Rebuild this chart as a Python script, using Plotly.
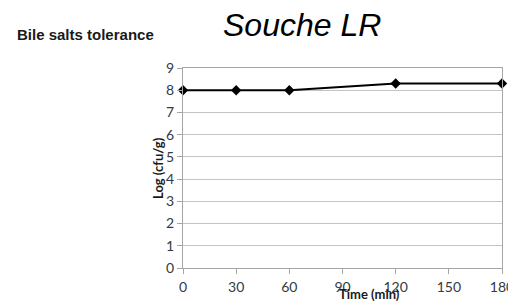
import plotly.graph_objects as go

time_min = [0, 30, 60, 120, 180]
log_cfu = [8.0, 8.0, 8.0, 8.3, 8.3]
x_ticks = [0, 30, 60, 90, 120, 150, 180]
y_ticks = list(range(0, 10))

tick_font = dict(family="Lato, Liberation Sans, sans-serif", size=14, color="#333a45")
grid = "#c4c4c4"

fig = go.Figure()
fig.add_trace(go.Scatter(
    x=time_min, y=log_cfu, mode="lines+markers",
    line=dict(color="black", width=2),
    marker=dict(symbol="diamond", size=8, color="black"),
    cliponaxis=False, showlegend=False,
))

fig.update_layout(
    width=508, height=301,
    margin=dict(l=183, r=6, t=68, b=33, autoexpand=False),
    paper_bgcolor="white", plot_bgcolor="white",
    xaxis=dict(range=[0, 180], tickvals=x_ticks, ticks="outside", ticklen=5,
               tickcolor="#a6a6a6", showline=True, linecolor="#a6a6a6", mirror=True,
               showgrid=False, zeroline=False, tickfont=tick_font, ticklabelstandoff=1,
               ticklabeloverflow="allow", automargin=False),
    yaxis=dict(range=[0, 9], tickvals=y_ticks, ticks="outside", ticklen=5,
               tickcolor="#a6a6a6", showline=True, linecolor="#a6a6a6", mirror=True,
               showgrid=True, gridcolor=grid, zeroline=False, tickfont=tick_font,
               automargin=False),
    annotations=[
        dict(text="<b>Bile salts tolerance</b>", x=15, y=301-34, xref="paper", yref="paper",
             showarrow=False, xanchor="left", yanchor="middle",
             font=dict(family="Liberation Sans, Arial", size=15, color="#1a1a1a")),
        dict(text="<i>Souche LR</i>", x=302, y=301-25, xref="paper", yref="paper",
             showarrow=False, xanchor="center", yanchor="middle",
             font=dict(family="Liberation Sans, Arial", size=32, color="black")),
        dict(text="<b>Time (min)</b>", x=369, y=301-294, xref="paper", yref="paper",
             showarrow=False, xanchor="center", yanchor="middle",
             font=dict(family="Lato, Liberation Sans", size=13, color="#1a1a1a")),
        dict(text="<b>Log (cfu/g)</b>", x=158, y=301-168, xref="paper", yref="paper",
             showarrow=False, xanchor="center", yanchor="middle", textangle=-90,
             font=dict(family="Lato, Liberation Sans", size=13, color="#1a1a1a")),
    ],
)

# convert pixel-based annotation coordinates to paper fractions
pw = 508 - 183 - 6
ph = 301 - 68 - 33
for a in fig.layout.annotations:
    a.x = (a.x - 183) / pw
    a.y = (a.y - 33) / ph

fig.write_html("out.html", config={"displayModeBar": False},
               post_script="document.body.style.margin='0';document.body.style.overflow='hidden';")
